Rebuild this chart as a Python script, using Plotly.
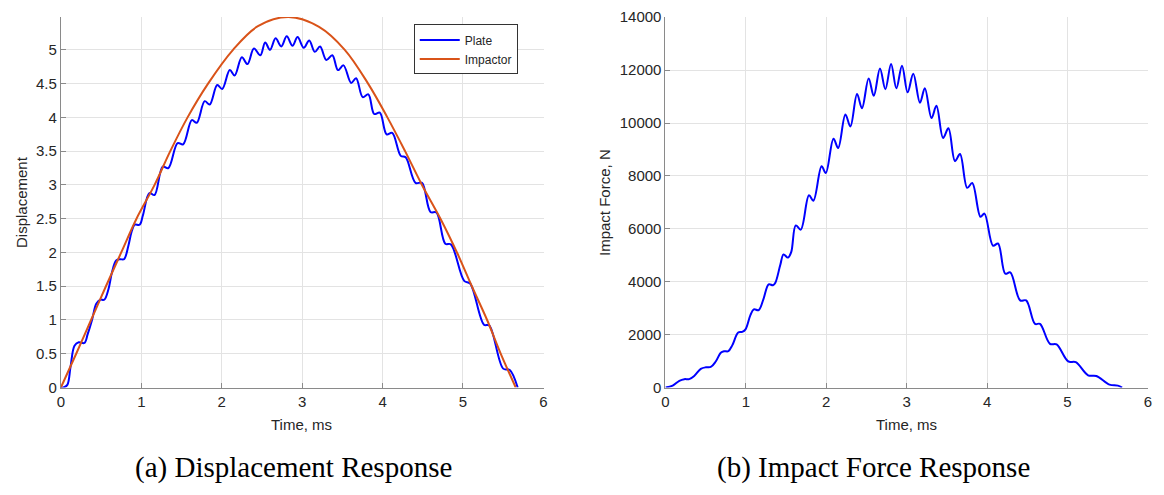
import plotly.graph_objects as go

# ---------------- data ----------------
plate_t = [0.00, 0.03, 0.08, 0.12, 0.169, 0.222, 0.292, 0.333, 0.387, 0.44, 0.49, 0.539,
           0.592, 0.634, 0.687, 0.736, 0.785, 0.839, 0.88, 0.917, 0.979, 1.02, 1.10, 1.164,
           1.266, 1.336, 1.451, 1.52, 1.628, 1.689, 1.788, 1.85, 1.944, 2.006, 2.10, 2.16,
           2.25, 2.32, 2.40, 2.48, 2.54, 2.60, 2.67, 2.74, 2.808, 2.88, 2.943, 3.02, 3.088,
           3.157, 3.223, 3.30, 3.375, 3.445, 3.514, 3.609, 3.671, 3.753, 3.823, 3.896, 3.966,
           4.05, 4.12, 4.226, 4.287, 4.41, 4.49, 4.596, 4.67, 4.78, 4.85, 5.015, 5.089,
           5.261, 5.327, 5.50, 5.582, 5.68]
plate_d = [0.00, 0.00, 0.04, 0.31, 0.62, 0.67, 0.66, 0.79, 1.00, 1.24, 1.30, 1.30,
           1.46, 1.70, 1.88, 1.90, 1.90, 2.10, 2.31, 2.41, 2.41, 2.55, 2.88, 2.85,
           3.27, 3.25, 3.62, 3.60, 3.96, 3.92, 4.24, 4.19, 4.48, 4.42, 4.70, 4.62,
           4.89, 4.79, 5.02, 4.92, 5.11, 5.00, 5.17, 5.05, 5.20, 5.06, 5.19, 5.03, 5.14,
           4.97, 5.05, 4.85, 4.92, 4.70, 4.77, 4.51, 4.58, 4.30, 4.34, 4.05, 4.07,
           3.75, 3.77, 3.43, 3.41, 3.03, 3.03, 2.60, 2.59, 2.13, 2.12, 1.58, 1.54,
           0.93, 0.92, 0.28, 0.26, 0.00]

impactor_t = [0.0, 0.19, 0.375, 0.56, 0.75, 0.94, 1.165, 1.36, 1.575, 1.83, 2.14, 2.45,
              2.83, 3.21, 3.53, 3.82, 4.06, 4.28, 4.49, 4.72, 4.925, 5.11, 5.30, 5.47, 5.656]
impactor_d = [0.0, 0.5, 1.0, 1.5, 2.0, 2.5, 3.0, 3.5, 4.0, 4.5, 5.0, 5.35,
              5.486, 5.34, 5.0, 4.5, 4.0, 3.5, 3.0, 2.5, 2.0, 1.5, 1.0, 0.5, 0.0]

force_t = [0.0, 0.09, 0.173, 0.235, 0.296, 0.358, 0.44, 0.503, 0.564, 0.626, 0.688, 0.728,
           0.782, 0.831, 0.905, 0.955, 0.996, 1.058, 1.099, 1.16, 1.22, 1.284, 1.337, 1.367,
           1.428, 1.469, 1.523, 1.564, 1.621, 1.683, 1.785, 1.84, 1.942, 1.994, 2.09, 2.148,
           2.238, 2.30, 2.383, 2.444, 2.527, 2.591, 2.668, 2.735, 2.806, 2.872, 2.942, 3.012,
           3.082, 3.165, 3.226, 3.309, 3.37, 3.453, 3.519, 3.601, 3.663, 3.753, 3.815, 3.918,
           3.967, 4.074, 4.136, 4.226, 4.288, 4.411, 4.486, 4.596, 4.658, 4.782, 4.864, 5.009,
           5.103, 5.256, 5.358, 5.522, 5.626, 5.679]
force_f = [0, 73, 255, 317, 317, 438, 705, 766, 778, 985, 1313, 1374,
           1374, 1594, 2079, 2104, 2200, 2746, 2954, 2930, 3355, 3902, 3866, 3964,
           4632, 5033, 4912, 5117, 6130, 5970, 7269, 7063, 8363, 8110, 9409, 9055,
           10321, 9870, 11095, 10558, 11681, 11027, 12065, 11280, 12228, 11316, 12167, 11160,
           11864, 10770, 11316, 10186, 10649, 9435, 9799, 8559, 8826, 7549, 7732, 6455,
           6576, 5361, 5445, 4303, 4351, 3293, 3293, 2407, 2407, 1652, 1630, 985,
           959, 463, 438, 109, 73, 0]

x_ticks = [0, 1, 2, 3, 4, 5, 6]
disp_ticks = [0, 0.5, 1, 1.5, 2, 2.5, 3, 3.5, 4, 4.5, 5]
disp_ticktext = ["0", "0.5", "1", "1.5", "2", "2.5", "3", "3.5", "4", "4.5", "5"]
force_ticks = [0, 2000, 4000, 6000, 8000, 10000, 12000, 14000]
force_ticktext = ["0", "2000", "4000", "6000", "8000", "10000", "12000", "14000"]

# ---------------- figure ----------------
W, H = 1164, 495
BLUE = "#0000ff"
ORANGE = "#D95319"
AX = "#8a8a8a"
GRID = "#e3e3e3"
TXT = "#262626"
SANS = "Liberation Sans, Arial, sans-serif"


def px_x(p):
    return p / W


def px_y(p):
    return 1 - p / H


fig = go.Figure()
fig.add_trace(go.Scatter(x=plate_t, y=plate_d, mode="lines", name="Plate",
                         line=dict(color=BLUE, width=2, shape="spline", smoothing=1.0),
                         xaxis="x", yaxis="y"))
fig.add_trace(go.Scatter(x=impactor_t, y=impactor_d, mode="lines", name="Impactor",
                         line=dict(color=ORANGE, width=2, shape="spline", smoothing=1.0),
                         xaxis="x", yaxis="y"))
fig.add_trace(go.Scatter(x=force_t, y=force_f, mode="lines", name="Impact Force",
                         line=dict(color=BLUE, width=2, shape="spline", smoothing=1.0),
                         xaxis="x2", yaxis="y2", showlegend=False))

common_ax = dict(showline=True, linecolor=AX, linewidth=1, ticks="inside", ticklen=5,
                 tickcolor=AX, showgrid=True, gridcolor=GRID, gridwidth=1, zeroline=False,
                 tickfont=dict(family=SANS, size=15, color=TXT), fixedrange=True,
                 ticklabeloverflow="allow")

ydom = [px_y(392), px_y(8.3)]
fig.update_layout(
    width=W, height=H,
    margin=dict(l=0, r=0, t=0, b=0),
    paper_bgcolor="white", plot_bgcolor="white",
    xaxis=dict(domain=[px_x(57.3), px_x(543.3)], range=[0, 6.002], anchor="y",
               tickmode="array", tickvals=x_ticks, ticktext=[str(v) for v in x_ticks], **common_ax),
    yaxis=dict(domain=ydom, range=[0, 5.486], anchor="x",
               tickmode="array", tickvals=disp_ticks, ticktext=disp_ticktext, **common_ax),
    xaxis2=dict(domain=[px_x(666), px_x(1152)], range=[0, 6.002], anchor="y2",
                tickmode="array", tickvals=x_ticks, ticktext=[str(v) for v in x_ticks], **common_ax),
    yaxis2=dict(domain=ydom, range=[0, 14008], anchor="x2",
                tickmode="array", tickvals=force_ticks, ticktext=force_ticktext, **common_ax),
    legend=dict(x=px_x(517.3), y=px_y(16), xanchor="right", yanchor="top",
                bgcolor="white", bordercolor="#333333", borderwidth=1,
                font=dict(family=SANS, size=12, color=TXT),
                tracegroupgap=0, itemwidth=40),
    showlegend=True,
)

ann_font = dict(family=SANS, size=15, color=TXT)


def label(x, y, text, angle=0, font=ann_font):
    fig.add_annotation(x=px_x(x), y=px_y(y), xref="paper", yref="paper", text=text,
                       textangle=angle, showarrow=False, font=font,
                       xanchor="center", yanchor="middle")


label(17, 200, "Displacement", angle=-90)
label(300, 430, "Time, ms")
label(604, 200, "Impact Force, N", angle=-90)
label(909, 430, "Time, ms")

cap_font = dict(family="Liberation Serif, Times New Roman, serif", size=29, color="black")
label(292, 475, "(a) Displacement Response", font=cap_font)
label(876, 475, "(b) Impact Force Response", font=cap_font)

fig.write_html("out.html")
